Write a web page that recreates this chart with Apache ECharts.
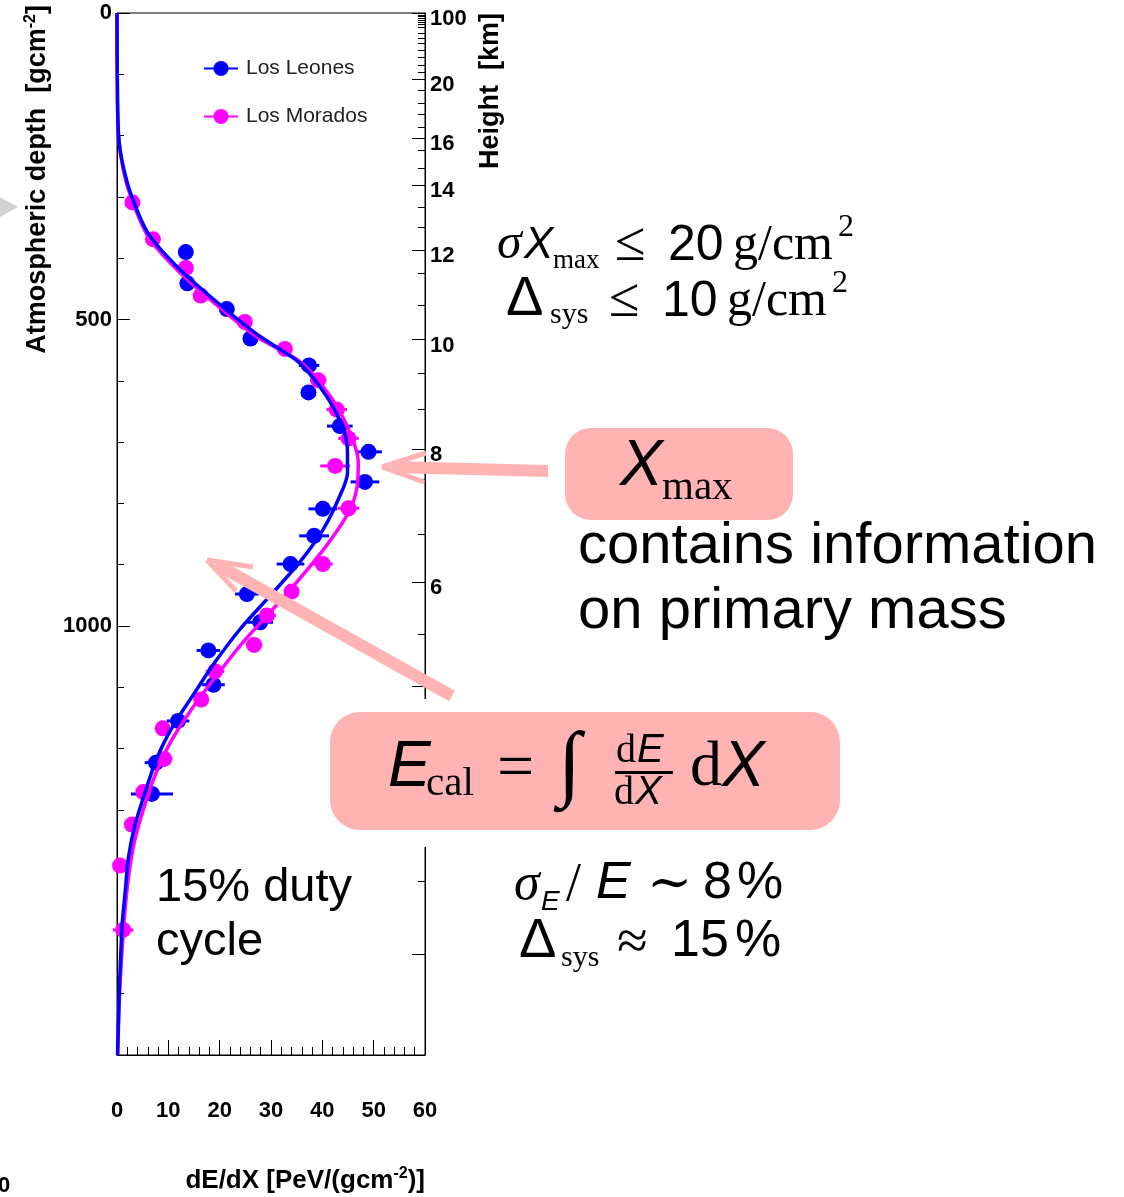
<!DOCTYPE html>
<html>
<head>
<meta charset="utf-8">
<script src="https://cdn.jsdelivr.net/npm/echarts@6/dist/echarts.min.js"></script>
<style>
html, body { margin: 0; padding: 0; background: #fff; }
#chart { width: 1124px; height: 1197px; }
</style>
</head>
<body>
<div id="chart"></div>
<script>
// Axis tick values
const dedxTicks = [0, 10, 20, 30, 40, 50, 60];
const depthTicks = [0, 500, 1000, 1500];
const depthMinorTicks = [0, 100, 200, 300, 400, 500, 600, 700, 800, 900, 1000, 1100, 1200, 1300, 1400, 1500, 1600, 1700];

// Height scale on the right: labelled ticks (km) and the depths they sit at
const heightKm = ['100', '20', '16', '14', '12', '10', '8', '6'];
const heightKmDepth = [0, 108, 204, 281, 387, 533, 712, 928];
const heightUnlabeledDepth = [1098, 1535];
const heightMinorDepth = [3, 6, 9, 12, 15, 18, 24, 33, 41, 49, 60, 72, 85, 96, 126, 147, 166, 186,
  224, 253, 317, 349, 425, 476, 587, 646, 760, 850, 1014, 1416];

// Los Leones profile
const leonesDepth = [390, 441, 483, 531, 575, 619, 674, 716, 765, 809, 853, 899, 948, 994, 1040, 1096, 1155, 1223, 1274];
const leonesDedx = [13.4, 13.7, 21.4, 26.0, 37.4, 37.3, 43.4, 49.0, 48.3, 40.1, 38.4, 33.8, 25.3, 27.9, 17.8, 18.8, 11.9, 7.6, 6.8];
const leonesErr = [1.0, 1.0, 1.2, 1.2, 2.0, 1.3, 2.5, 2.6, 2.8, 2.8, 2.9, 2.7, 2.3, 2.5, 2.3, 2.2, 2.2, 2.2, 4.1];

// Los Morados profile
const moradosDepth = [309, 369, 416, 461, 504, 548, 599, 647, 694, 739, 808, 899, 944, 983, 1031, 1074, 1120, 1167, 1217, 1271, 1324, 1391, 1496];
const moradosDedx = [3.0, 7.0, 13.4, 16.3, 24.9, 32.7, 39.2, 42.8, 45.1, 42.5, 45.1, 40.1, 34.0, 29.2, 26.7, 19.1, 16.4, 8.9, 9.2, 5.1, 2.9, 0.6, 1.2];
const moradosErr = [1.0, 1.0, 1.0, 1.0, 1.0, 1.0, 1.6, 2.0, 2.0, 2.9, 2.1, 1.9, 1.4, 1.8, 1.6, 1.8, 1.2, 1.0, 1.6, 1.2, 1.0, 1.0, 2.0];

// Fitted profile curves
const leonesFitDepth = [0, 100, 200, 250, 300, 360, 413, 467, 522, 549, 571, 625, 679, 717, 750, 788, 842, 896, 951, 1005, 1059, 1108, 1162, 1217, 1271, 1325, 1379, 1434, 1488, 1597, 1700];
const leonesFitDedx = [0.0, 0.05, 0.3, 1.2, 2.9, 6.1, 11.6, 18.8, 26.9, 31.8, 35.6, 40.8, 44.1, 44.9, 44.9, 43.4, 40.2, 35.6, 29.8, 24.0, 19.1, 15.2, 11.0, 7.7, 5.5, 3.5, 2.2, 1.6, 1.0, 0.45, 0.1];
const moradosFitDepth = [0, 100, 200, 255, 305, 365, 418, 472, 527, 571, 625, 679, 733, 777, 815, 869, 923, 978, 1032, 1081, 1135, 1190, 1244, 1298, 1352, 1406, 1460, 1515, 1600, 1700];
const moradosFitDedx = [0.0, 0.05, 0.3, 1.2, 2.9, 6.1, 11.6, 18.8, 27.0, 36.0, 41.5, 45.1, 47.0, 46.7, 45.1, 40.8, 35.6, 29.8, 24.0, 19.4, 14.6, 10.4, 7.4, 5.2, 3.4, 2.3, 1.6, 1.1, 0.5, 0.15];

const BLUE = '#0000ff';
const MAGENTA = '#ff00ff';
const PINK = '#ffb3b3';
const SANS = '"Liberation Sans", Arial, Helvetica, sans-serif';
const SERIF = '"Liberation Serif", "DejaVu Serif", "Times New Roman", serif';

function pairs(xs, ys) { return xs.map((v, i) => [v, ys[i]]); }

function fitSeries(name, xs, ys, color, z) {
  return {
    name: name, type: 'line', xAxisIndex: 0, yAxisIndex: 0,
    data: pairs(xs, ys), smooth: 0.3, showSymbol: false, symbol: 'circle',
    lineStyle: { color: color, width: 3.5 }, itemStyle: { color: color },
    z: z, silent: true
  };
}

function pointSeries(name, xs, ys, color) {
  return {
    name: name, type: 'scatter', xAxisIndex: 0, yAxisIndex: 0,
    data: pairs(xs, ys), symbol: 'circle', symbolSize: 16,
    itemStyle: { color: color, opacity: 1 }, z: 4, silent: true
  };
}

function errorSeries(name, xs, ys, errs, color) {
  return {
    name: name, type: 'custom', xAxisIndex: 0, yAxisIndex: 0,
    data: xs.map((v, i) => [v - errs[i], v + errs[i], ys[i]]),
    encode: { x: [0, 1], y: 2 },
    renderItem: function (params, api) {
      const a = api.coord([api.value(0), api.value(2)]);
      const b = api.coord([api.value(1), api.value(2)]);
      return { type: 'line', shape: { x1: a[0], y1: a[1], x2: b[0], y2: b[1] },
        style: { stroke: color, lineWidth: 3 } };
    },
    z: 3, silent: true
  };
}

function txt(x, y, text, size, family, extra) {
  return {
    type: 'text', x: x, y: y, z: 200, silent: true,
    style: Object.assign({
      text: text, fontSize: size, fontFamily: family, fill: '#000',
      align: 'left', verticalAlign: 'middle', textAlign: 'left', textVerticalAlign: 'middle'
    }, extra || {})
  };
}
const IT = { fontStyle: 'italic' };

function pinkLine(x1, y1, x2, y2, w) {
  return { type: 'line', z: 150, silent: true, shape: { x1: x1, y1: y1, x2: x2, y2: y2 },
    style: { stroke: PINK, lineWidth: w, lineCap: 'butt' } };
}

const axisText = { fontSize: 22, fontWeight: 'bold', color: '#000', fontFamily: SANS };

const option = {
  animation: false,
  backgroundColor: '#fff',
  grid: { left: 117, top: 13, right: 699, bottom: 142, show: true, borderColor: '#000', borderWidth: 1, backgroundColor: 'transparent' },
  legend: {
    data: ['Los Leones', 'Los Morados'], left: 203, top: 58, orient: 'vertical', padding: 0,
    itemGap: 27, itemWidth: 34, itemHeight: 19, selectedMode: false,
    textStyle: { fontSize: 21, color: '#222', fontFamily: SANS, padding: [0, 0, 0, 3] }
  },
  xAxis: [{
    type: 'value', min: dedxTicks[0], max: dedxTicks[dedxTicks.length - 1], interval: 10, position: 'bottom',
    axisLine: { show: true, onZero: false, lineStyle: { color: '#000', width: 1 } },
    axisTick: { show: true, inside: true, length: 15, lineStyle: { color: '#000', width: 1 } },
    minorTick: { show: true, splitNumber: 5, length: 8, lineStyle: { color: '#000', width: 1 } },
    splitLine: { show: false },
    axisLabel: Object.assign({ margin: 45, formatter: function (v) { return String(v); } }, axisText)
  }],
  yAxis: [{
    type: 'value', inverse: true, min: 0, max: 1700, interval: 500, position: 'left',
    axisLine: { show: true, onZero: false, lineStyle: { color: '#000', width: 1 } },
    axisTick: { show: true, inside: true, length: 13, customValues: depthTicks, lineStyle: { color: '#000', width: 1 } },
    axisLabel: Object.assign({ margin: 5, customValues: depthTicks, showMaxLabel: false,
      formatter: function (v) { return String(v); } }, axisText),
    splitLine: { show: false }
  }, {
    type: 'value', inverse: true, min: 0, max: 1700, interval: 100, position: 'left',
    axisLine: { show: false, onZero: false },
    axisTick: { show: true, inside: true, length: 7, customValues: depthMinorTicks, lineStyle: { color: '#000', width: 1 } },
    axisLabel: { show: false },
    splitLine: { show: false }
  }, {
    type: 'value', inverse: true, min: 0, max: 1700, position: 'right',
    axisLine: { show: true, onZero: false, lineStyle: { color: '#000', width: 1 } },
    axisTick: { show: true, inside: true, length: 13, customValues: heightKmDepth.concat(heightUnlabeledDepth), lineStyle: { color: '#000', width: 1 } },
    axisLabel: Object.assign({
      margin: 5, customValues: heightKmDepth, verticalAlign: 'top', lineHeight: 12,
      formatter: function (v) {
        const i = heightKmDepth.indexOf(v);
        return i < 0 ? '' : heightKm[i];
      }
    }, axisText),
    splitLine: { show: false }
  }, {
    type: 'value', inverse: true, min: 0, max: 1700, position: 'right',
    axisLine: { show: false, onZero: false },
    axisTick: { show: true, inside: true, length: 7, customValues: heightMinorDepth, lineStyle: { color: '#000', width: 1 } },
    axisLabel: { show: false },
    splitLine: { show: false }
  }],
  series: [
    fitSeries('Los Leones', leonesFitDedx, leonesFitDepth, BLUE, 6),
    fitSeries('Los Morados', moradosFitDedx, moradosFitDepth, MAGENTA, 5),
    errorSeries('Los Leones errors', leonesDedx, leonesDepth, leonesErr, BLUE),
    errorSeries('Los Morados errors', moradosDedx, moradosDepth, moradosErr, MAGENTA),
    pointSeries('Los Leones points', leonesDedx, leonesDepth, BLUE),
    pointSeries('Los Morados points', moradosDedx, moradosDepth, MAGENTA)
  ],
  graphic: [
    // axis titles
    { type: 'text', x: 38, y: 5, rotation: Math.PI / 2, z: 100, silent: true,
      style: { text: '{n|Atmospheric depth  [gcm}{s|-2}{n|]}', align: 'right', verticalAlign: 'middle',
        textAlign: 'right', textVerticalAlign: 'middle',
        rich: { n: { fontSize: 27, fontWeight: 'bold', fontFamily: SANS, fill: '#000', lineHeight: 31 },
                s: { fontSize: 16, fontWeight: 'bold', fontFamily: SANS, fill: '#000', verticalAlign: 'top' } } } },
    { type: 'text', x: 491, y: 13, rotation: Math.PI / 2, z: 100, silent: true,
      style: { text: 'Height  [km]', fontSize: 27, fontWeight: 'bold', fontFamily: SANS, fill: '#000',
        align: 'right', verticalAlign: 'middle', textAlign: 'right', textVerticalAlign: 'middle' } },
    { type: 'text', x: 425, y: 1181, z: 100, silent: true,
      style: { text: '{n|dE/dX [PeV/(gcm}{s|-2}{n|)]}', align: 'right', verticalAlign: 'middle',
        textAlign: 'right', textVerticalAlign: 'middle',
        rich: { n: { fontSize: 26, fontWeight: 'bold', fontFamily: SANS, fill: '#000', lineHeight: 30 },
                s: { fontSize: 16, fontWeight: 'bold', fontFamily: SANS, fill: '#000', verticalAlign: 'top' } } } },
    txt(-2, 1186, '0', 22, SANS, { fontWeight: 'bold' }),
    // small grey pointer at the left edge
    { type: 'polygon', z: 100, silent: true, shape: { points: [[0, 197], [18, 207], [0, 217]] }, style: { fill: '#d2d2d2' } },

    // resolution of the shower maximum
    txt(497, 245, 'σ', 50, SERIF, IT),
    txt(524, 246, 'X', 44, SANS, IT),
    txt(553, 261, 'max', 27, SERIF),
    txt(615, 245, '≤', 56, SERIF),
    txt(668, 246, '20', 50, SANS),
    txt(733, 246, 'g/cm', 50, SERIF),
    txt(838, 228, '2', 32, SERIF),
    txt(506, 300, 'Δ', 56, SANS),
    txt(550, 315, 'sys', 30, SERIF),
    txt(609, 301, '≤', 56, SERIF),
    txt(662, 302, '10', 50, SANS),
    txt(727, 302, 'g/cm', 50, SERIF),
    txt(832, 284, '2', 32, SERIF),

    // Xmax callout
    { type: 'rect', z: 140, silent: true, shape: { x: 565, y: 428, width: 228, height: 92, r: 26 }, style: { fill: PINK } },
    txt(620, 467, 'X', 64, SANS, IT),
    txt(662, 488, 'max', 41, SERIF),
    pinkLine(548, 471, 392, 467, 12),
    pinkLine(382, 467, 426, 453, 5),
    pinkLine(382, 467, 424, 482, 5),
    txt(578, 547, 'contains information', 58, SANS),
    txt(578, 612, 'on primary mass', 58, SANS),

    // calorimetric energy callout
    { type: 'rect', z: 130, silent: true, shape: { x: 415, y: 699, width: 20, height: 148 }, style: { fill: '#fff' } },
    pinkLine(452, 696, 216, 564, 12),
    pinkLine(207, 560, 253, 567, 5),
    pinkLine(207, 560, 236, 591, 5),
    { type: 'rect', z: 140, silent: true, shape: { x: 330, y: 712, width: 510, height: 118, r: 30 }, style: { fill: PINK } },
    txt(388, 768, 'E', 64, SANS, IT),
    txt(426, 784, 'cal', 41, SERIF),
    txt(497, 771, '=', 66, SERIF),
    txt(558, 768, '∫', 84, SERIF, IT),
    txt(616, 751, 'd', 40, SERIF),
    txt(637, 751, 'E', 40, SANS, IT),
    { type: 'rect', z: 200, silent: true, shape: { x: 615, y: 771, width: 58, height: 3 }, style: { fill: '#000' } },
    txt(614, 793, 'd', 40, SERIF),
    txt(635, 793, 'X', 40, SANS, IT),
    txt(690, 768, 'd', 64, SERIF),
    txt(722, 768, 'X', 64, SANS, IT),

    // duty cycle note
    txt(156, 888, '15% duty', 47, SANS),
    txt(156, 942, 'cycle', 47, SANS),

    // energy resolution
    txt(514, 885, 'σ', 52, SERIF, IT),
    txt(541, 902, 'E', 28, SANS, IT),
    txt(566, 886, '/', 54, SERIF),
    txt(596, 884, 'E', 52, SANS, IT),
    txt(647, 886, '∼', 54, SERIF),
    txt(703, 884, '8', 52, SANS),
    txt(737, 884, '%', 52, SANS),
    txt(519, 942, 'Δ', 56, SANS),
    txt(561, 958, 'sys', 30, SERIF),
    txt(617, 944, '≈', 56, SERIF),
    txt(671, 942, '15', 52, SANS),
    txt(735, 942, '%', 52, SANS)
  ]
};

const chart = echarts.init(document.getElementById('chart'), null, { renderer: 'canvas' });
chart.setOption(option);
</script>
</body>
</html>
